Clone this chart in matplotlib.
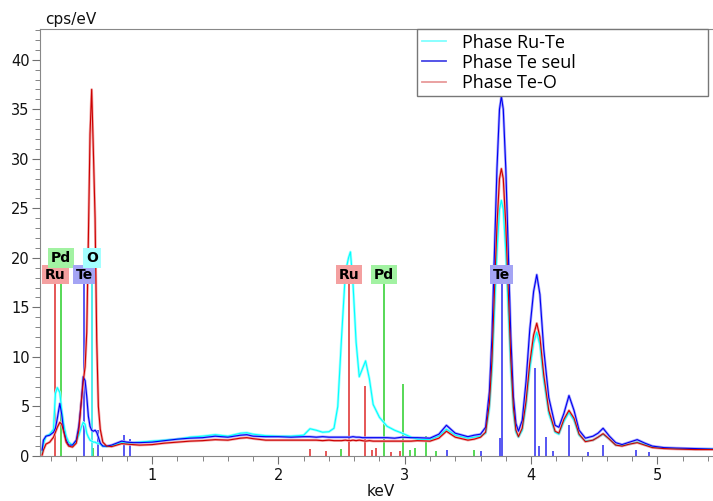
import matplotlib.pyplot as plt
from matplotlib.lines import Line2D
from matplotlib.ticker import MultipleLocator

# spectra (keV, cps/eV)
energy = [
    0.13, 0.14, 0.16, 0.19, 0.22, 0.235, 0.25, 0.27, 0.285, 0.30,
    0.32, 0.34, 0.37, 0.40, 0.42, 0.44, 0.455, 0.47, 0.483, 0.496,
    0.509, 0.522, 0.535, 0.549, 0.562, 0.575, 0.59, 0.61, 0.64, 0.68,
    0.72, 0.76, 0.80, 0.85, 0.90, 1.0, 1.1, 1.2, 1.3, 1.4,
    1.5, 1.6, 1.7, 1.75, 1.8, 1.9, 2.0, 2.1, 2.2, 2.25,
    2.3, 2.35, 2.4, 2.44, 2.47, 2.50, 2.53, 2.555, 2.57, 2.59,
    2.615, 2.64, 2.665, 2.69, 2.72, 2.75, 2.8, 2.86, 2.92, 2.98,
    3.05, 3.1, 3.2, 3.27, 3.33, 3.4, 3.5, 3.55, 3.6, 3.64,
    3.67, 3.69, 3.71, 3.73, 3.75, 3.765, 3.78, 3.80, 3.82, 3.84,
    3.86, 3.88, 3.9, 3.93, 3.96, 3.99, 4.02, 4.045, 4.07, 4.1,
    4.14, 4.19, 4.22, 4.26, 4.3, 4.34, 4.38, 4.43, 4.49, 4.53,
    4.57, 4.62, 4.67, 4.72, 4.78, 4.84, 4.9, 4.96, 5.05, 5.15,
    5.3, 5.44]

ru_te = [
    0.3, 1.2, 2.0, 2.2, 2.7, 6.3, 6.9, 6.4, 4.6, 3.2,
    2.0, 1.4, 1.1, 1.5, 2.1, 2.9, 3.4, 3.2, 2.3, 1.9,
    1.6, 1.5, 1.4, 1.4, 1.3, 1.3, 1.2, 1.0, 0.95, 1.0,
    1.2, 1.35, 1.3, 1.35, 1.4, 1.5, 1.6, 1.7, 1.9, 2.0,
    2.15, 2.0, 2.3, 2.35, 2.2, 2.05, 2.0, 2.0, 2.1, 2.75,
    2.6, 2.4, 2.45, 2.8, 5.0, 12.0, 18.5, 20.0, 20.6, 17.5,
    11.5, 8.0, 8.8, 9.6, 7.8, 5.2, 3.9, 3.0, 2.6, 2.3,
    1.9, 1.7, 1.65, 2.0, 2.7, 2.1, 1.8, 1.9, 2.0, 2.3,
    4.8, 8.6, 14.6, 20.6, 24.9, 25.8, 24.9, 20.6, 14.6, 8.6,
    4.4, 2.4, 1.9, 2.6, 5.1, 8.8, 11.4, 12.5, 11.2, 7.7,
    4.3, 2.4, 2.2, 3.5, 4.4, 3.6, 2.1, 1.5, 1.6, 1.9,
    2.2, 1.7, 1.1, 1.05, 1.2, 1.4, 1.15, 0.9, 0.8, 0.75,
    0.7, 0.7]

te_seul = [
    0.6, 1.6, 2.0, 2.1, 2.4, 2.8, 3.8, 5.3, 4.2, 2.6,
    1.6, 1.1, 1.1, 1.6, 3.0, 5.5, 8.0, 7.6, 6.0, 4.0,
    3.0, 2.6, 2.5, 2.6, 2.4, 1.9, 1.3, 1.0, 1.0, 1.1,
    1.3, 1.5, 1.4, 1.35, 1.35, 1.4, 1.55, 1.7, 1.8, 1.85,
    2.0, 1.9, 2.1, 2.15, 2.0, 1.95, 1.95, 1.9, 1.95, 1.95,
    1.9, 1.95, 1.9, 1.9, 1.9, 1.9, 1.9, 1.9, 1.9, 1.95,
    1.9, 1.9, 1.85, 1.85, 1.85, 1.85, 1.85, 1.85, 1.8, 1.9,
    1.85, 1.85, 1.8, 2.2, 3.1, 2.3, 1.95, 2.1, 2.2, 2.9,
    6.5, 12.0, 20.5, 29.0, 35.0, 36.3, 35.0, 29.0, 20.5, 12.0,
    6.0, 3.3, 2.5, 3.6, 7.5, 12.8, 16.6, 18.3, 16.3, 10.8,
    5.9, 3.1, 2.9, 4.3, 6.1, 4.6, 2.6, 1.8, 2.0, 2.3,
    2.8, 2.0, 1.35, 1.15, 1.4, 1.65, 1.3, 1.0, 0.85, 0.8,
    0.75, 0.7]

te_o = [
    0.1, 0.6, 1.2, 1.4, 1.9, 2.4, 2.9, 3.4, 3.2, 2.5,
    1.4, 1.0, 0.9, 1.3, 2.6, 5.5, 7.5, 9.0, 12.5, 22.0,
    32.5, 37.0, 31.0, 24.0, 11.7, 5.0, 2.7, 1.4, 1.0, 0.95,
    1.1, 1.25, 1.2, 1.15, 1.1, 1.15, 1.3, 1.4, 1.5, 1.55,
    1.65, 1.6, 1.8, 1.85, 1.75, 1.6, 1.6, 1.6, 1.6, 1.6,
    1.6, 1.55, 1.6, 1.55, 1.55, 1.55, 1.6, 1.55, 1.55, 1.6,
    1.55, 1.6, 1.55, 1.5, 1.55, 1.5, 1.5, 1.5, 1.5, 1.5,
    1.5, 1.55, 1.5, 1.8, 2.5, 1.9, 1.6, 1.7, 1.9, 2.4,
    5.3, 9.6, 16.5, 23.3, 28.0, 29.0, 28.0, 23.3, 16.5, 9.6,
    4.9, 2.6, 1.95, 2.8, 5.5, 9.4, 12.2, 13.4, 12.0, 8.2,
    4.6, 2.5, 2.3, 3.7, 4.6, 3.8, 2.2, 1.45, 1.6, 1.9,
    2.25, 1.7, 1.1, 1.0, 1.2, 1.35, 1.1, 0.85, 0.75, 0.7,
    0.65, 0.65]

# element marker lines (keV, height)
ru_kev = [0.235, 2.25, 2.378, 2.558, 2.683, 2.74, 2.77, 2.89, 2.96]
ru_h = [18.3, 0.7, 0.5, 18.3, 7.1, 0.6, 0.8, 0.4, 0.5]
pd_kev = [0.28, 0.53, 2.497, 2.838, 2.99, 3.04, 3.08, 3.172, 3.25, 3.545]
pd_h = [18.3, 0.8, 0.7, 18.3, 7.3, 0.6, 0.8, 2.0, 0.5, 0.6]
o_kev = [0.525]
o_h = [18.3]
te_kev = [0.462, 0.575, 0.78, 0.826, 3.335, 3.605, 3.755, 3.769, 4.029,
          4.066, 4.12, 4.172, 4.302, 4.45, 4.57, 4.83, 4.93]
te_h = [18.3, 2.6, 2.1, 1.7, 0.6, 0.5, 1.85, 18.3, 8.85,
        1.0, 1.9, 0.5, 3.1, 0.4, 1.1, 0.6, 0.4]

# element tags: name, energy, row (0 lower, 1 upper)
tag_names = ['Ru', 'Pd', 'Te', 'O', 'Ru', 'Pd', 'Te']
tag_kev = [0.235, 0.28, 0.462, 0.525, 2.558, 2.838, 3.769]
tag_row = [0, 1, 0, 1, 0, 0, 0]

line_col = {'Ru': '#e03a3a', 'Pd': '#3ad23a', 'O': '#30e6e6', 'Te': '#3a3af0'}
box_col = {'Ru': '#f4a0a0', 'Pd': '#a2f2a2', 'O': '#a4ffff', 'Te': '#a4a4f4'}

fig = plt.figure(figsize=(7.13, 5.01), dpi=100)
ax = fig.add_axes([40 / 713, 45 / 501, 673 / 713, 427 / 501])

for name, xs, hs in [('Ru', ru_kev, ru_h), ('Pd', pd_kev, pd_h),
                     ('O', o_kev, o_h), ('Te', te_kev, te_h)]:
    ax.vlines(xs, 0, hs, colors=line_col[name], lw=1.2, zorder=1)

series = [(ru_te, '#00ffff', '#a0ffff'),
          (te_seul, '#0000f0', '#a8a8ff'),
          (te_o, '#cc0000', '#f2a8a8')]
for ys, c, halo in series:
    ax.plot(energy, ys, color=halo, lw=1.9, zorder=2)
for ys, c, halo in series:
    ax.plot(energy, ys, color=c, lw=0.8, zorder=3)

for name, e, r in zip(tag_names, tag_kev, tag_row):
    ax.text(e, 18.3 + 1.7 * r, name, ha='center', va='center',
            fontsize=10, fontweight='bold', color='black', zorder=5,
            bbox=dict(boxstyle='square,pad=0.2', fc=box_col[name], ec='none'))

ax.set_xlim(0.113, 5.44)
ax.set_ylim(0, 43.1)
ax.xaxis.set_major_locator(MultipleLocator(1))
ax.xaxis.set_minor_locator(MultipleLocator(0.2))
ax.yaxis.set_major_locator(MultipleLocator(5))
ax.yaxis.set_minor_locator(MultipleLocator(1))

for side in ['left', 'top', 'bottom']:
    ax.spines[side].set_color('#888888')
ax.spines['right'].set_visible(False)
ax.tick_params(which='both', colors='#707070', labelcolor='#111111',
               labelsize=10.5, direction='out')
ax.tick_params(which='major', length=6)
ax.tick_params(which='minor', length=3.6)
ax.tick_params(axis='y', pad=1.5)
ax.tick_params(axis='x', pad=3)

fig.text(45 / 713, 1 - 24 / 501, 'cps/eV', fontsize=11, va='baseline',
         ha='left', color='#111111')
fig.text(381 / 713, 1 - 492 / 501, 'keV', fontsize=11, va='center',
         ha='center', color='#111111')

handles = [Line2D([], [], color='#80ffff', lw=1.3),
           Line2D([], [], color='#4646e6', lw=1.3),
           Line2D([], [], color='#e89a9a', lw=1.3)]
labels = ['Phase Ru-Te', 'Phase Te seul', 'Phase Te-O']
leg = ax.legend(handles, labels, loc='upper left', mode='expand',
                bbox_to_anchor=(377 / 673, 0.0, 291 / 673, 1.0),
                borderaxespad=0, fancybox=False, framealpha=1,
                edgecolor='#777777', handlelength=1.35, handletextpad=0.9,
                borderpad=0.25, labelspacing=0.12,
                prop={'family': 'Open Sans', 'size': 13})
leg.get_frame().set_linewidth(1.0)

fig.savefig('out.png', dpi=100)
